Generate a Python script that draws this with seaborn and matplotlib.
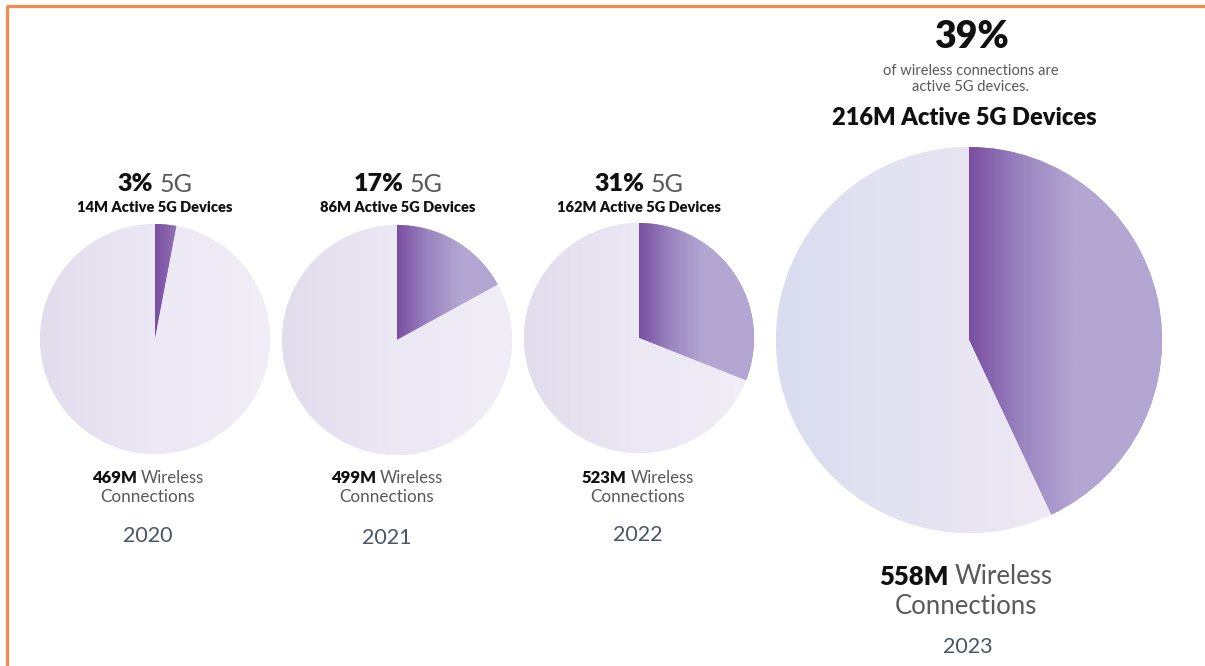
import numpy as np
import matplotlib
matplotlib.use('Agg')
import matplotlib.pyplot as plt
import seaborn as sns

# ─────────────────────────────────────────────
# Data (read off the graphic)
# ─────────────────────────────────────────────
years = ['2020', '2021', '2022', '2023']
pct_5g = [3, 17, 31, 39]              # labelled share of 5G
active_5g_m = [14, 86, 162, 216]      # active 5G devices (millions)
wireless_m = [469, 499, 523, 558]     # wireless connections (millions)
wedge_share = [3, 17, 31, 43]         # 5G wedge as drawn in the graphic

W, H = 1205, 666
sns.set_theme(style='white')
plt.rcParams['font.family'] = ['Lato', 'DejaVu Sans']

fig = plt.figure(figsize=(W / 100, H / 100), dpi=100)
ax = fig.add_axes([0, 0, 1, 1])

# pie layout in pixels (y measured from top)
centers = [(155, 339), (397, 340), (639, 338), (969, 340)]
radii = [115, 115, 115, 193]

cmap_5g = sns.blend_palette(['#7a4ea2', '#9a85c0', '#b3a6d2'], as_cmap=True)
cmap_rest_small = sns.blend_palette(['#e2dcec', '#ece8f4', '#f1eef7'], as_cmap=True)
cmap_rest_big = sns.blend_palette(['#d9ddef', '#e9e5f3', '#f6eef5'], as_cmap=True)

for i, share in enumerate(wedge_share):
    cx, cy = centers[i][0], H - centers[i][1]
    r = radii[i]
    wedges, _ = ax.pie([share, 100 - share], startangle=90, counterclock=False,
                       center=(cx, cy), radius=r,
                       colors=['#9a85c0', '#ebe7f3'], wedgeprops=dict(linewidth=0))
    ext = (cx - r, cx + r, cy - r, cy + r)
    xs = np.linspace(cx - r, cx + r, 500)
    ramp = np.clip((xs - cx) / (0.55 * r), 0, 1)
    im = ax.imshow(ramp[None, :], extent=ext, cmap=cmap_5g, vmin=0, vmax=1,
                   aspect='auto', interpolation='bilinear', zorder=2)
    im.set_clip_path(wedges[0])
    im2 = ax.imshow(np.linspace(0, 1, 500)[None, :], extent=ext,
                    cmap=cmap_rest_big if i == 3 else cmap_rest_small,
                    vmin=0, vmax=1, aspect='auto', interpolation='bilinear', zorder=2)
    im2.set_clip_path(wedges[1])

ax.set_xlim(0, W)
ax.set_ylim(0, H)
ax.axis('off')

# orange frame (left + top)
ax.plot([6.5, 6.5], [0, H - 5.5], color='#f58a4e', lw=2.3, solid_capstyle='butt')
ax.plot([5.5, W], [H - 5.5, H - 5.5], color='#f58a4e', lw=2.3, solid_capstyle='butt')

renderer = fig.canvas.get_renderer()


def line(x, y, parts, size):
    """Centre a row of (text, weight, colour) pieces on x at pixel row y."""
    texts = [ax.text(0, H - y, s, fontsize=size, fontweight=wt, color=c,
                     ha='left', va='center') for s, wt, c in parts]
    widths = [t.get_window_extent(renderer).width for t in texts]
    gap = size * 1.389 * 0.24
    left = x - (sum(widths) + gap * (len(parts) - 1)) / 2
    for t, w in zip(texts, widths):
        t.set_x(left)
        left += w + gap


BLACK, GREY, SLATE = '#111111', '#595959', '#4a5667'

# label centres for the three small pies
top_x = [155, 398, 639]
bottom_x = [148, 387, 638]
year_y = [536, 538, 535]

for i in range(3):
    line(top_x[i], 184, [(f'{pct_5g[i]}%', 'heavy', BLACK), ('5G', 'normal', GREY)], 18)
    line(top_x[i], 208, [(f'{active_5g_m[i]}M Active 5G Devices', 'heavy', BLACK)], 10.5)
    line(bottom_x[i], 478, [(f'{wireless_m[i]}M', 'heavy', BLACK), ('Wireless', 'normal', GREY)], 12)
    line(bottom_x[i], 497, [('Connections', 'normal', GREY)], 12.3)
    line(bottom_x[i], year_y[i], [(years[i], 'normal', SLATE)], 15.5)

line(971, 37, [(f'{pct_5g[3]}%', 'heavy', BLACK)], 27)
line(971, 71, [('of wireless connections are', 'normal', GREY)], 10.5)
line(971, 87, [('active 5G devices.', 'normal', GREY)], 10.5)
line(964, 118, [(f'{active_5g_m[3]}M Active 5G Devices', 'heavy', BLACK)], 17)
line(966, 577, [(f'{wireless_m[3]}M', 'heavy', BLACK), ('Wireless', 'normal', GREY)], 18.5)
line(966, 606, [('Connections', 'normal', GREY)], 18.5)
line(968, 647, [(years[3], 'normal', SLATE)], 15.5)

fig.savefig('out.png', dpi=100)
